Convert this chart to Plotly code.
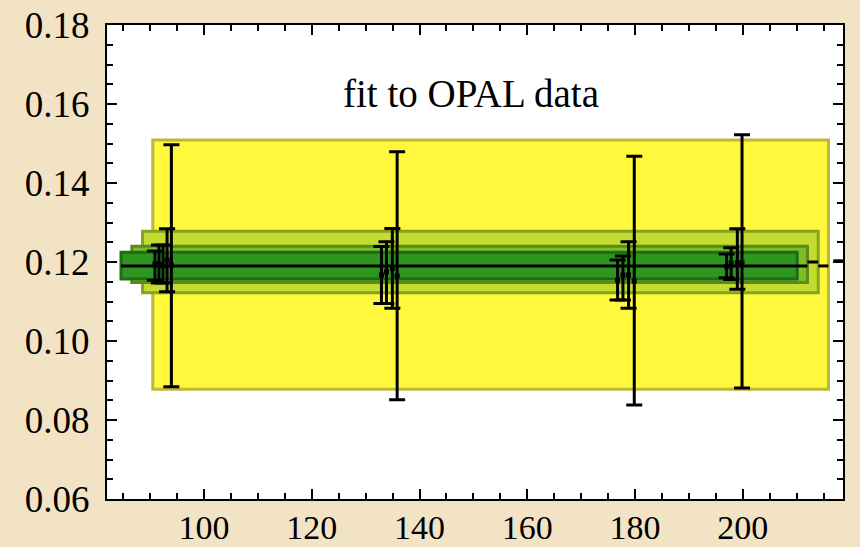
import plotly.graph_objects as go

# --- fitted alpha_s bands (nested rectangles, outermost first) ---
band_x0 = [90.5, 88.6, 86.6, 84.6]
band_x1 = [215.9, 214.0, 212.0, 210.1]
band_lo = [0.0878, 0.1122, 0.1148, 0.1157]
band_hi = [0.1509, 0.1278, 0.1240, 0.1225]
band_fill = ["#FFF83C", "#C4DC2F", "#7DBE27", "#2E9620"]
band_edge = ["#BDB73A", "#86A220", "#5A8A1C", "#1F6C17"]

# central values drawn as short horizontal segments
center_x0 = [84.6, 212.0, 214.0, 216.8]
center_x1 = [212.0, 214.0, 215.9, 218.6]
center_val = [0.1190, 0.1200, 0.1190, 0.1203]

# --- OPAL measurements: x, central value, lower and upper ends ---
pt_x = [90.9, 91.65, 92.4, 93.15, 93.95,
        132.94, 133.87, 134.96, 135.85,
        176.76, 177.76, 178.8, 179.86,
        197.0, 197.84, 198.99, 199.86]
pt_y = [0.1195, 0.1195, 0.1190, 0.1205, 0.1192,
        0.1167, 0.1175, 0.1184, 0.1165,
        0.1154, 0.1167, 0.1167, 0.1152,
        0.1188, 0.1198, 0.1198, 0.1198]
pt_lo = [0.1154, 0.1147, 0.1147, 0.1125, 0.0884,
         0.1095, 0.1095, 0.1083, 0.0851,
         0.1104, 0.1104, 0.1083, 0.0838,
         0.1160, 0.1156, 0.1131, 0.0881]
pt_hi = [0.1228, 0.1243, 0.1243, 0.1284, 0.1497,
         0.1239, 0.1251, 0.1285, 0.1479,
         0.1205, 0.1215, 0.1251, 0.1468,
         0.1220, 0.1236, 0.1284, 0.1522]

x_ticks = [100, 120, 140, 160, 180, 200]
y_ticks = [0.06, 0.08, 0.10, 0.12, 0.14, 0.16, 0.18]

SERIF = "Liberation Serif"

fig = go.Figure()

shapes = []
for x0, x1, lo, hi, fc, ec in zip(band_x0, band_x1, band_lo, band_hi, band_fill, band_edge):
    shapes.append(dict(type="rect", xref="x", yref="y", x0=x0, x1=x1, y0=lo, y1=hi,
                       fillcolor=fc, line=dict(color=ec, width=3), layer="below"))

for x0, x1, v in zip(center_x0, center_x1, center_val):
    fig.add_trace(go.Scatter(x=[x0, x1], y=[v, v], mode="lines",
                             line=dict(color="black", width=3),
                             hoverinfo="skip", showlegend=False))

err_plus = [h - y for h, y in zip(pt_hi, pt_y)]
err_minus = [y - l for y, l in zip(pt_y, pt_lo)]
fig.add_trace(go.Scatter(
    x=pt_x, y=pt_y, mode="markers",
    marker=dict(symbol="square", size=5, color="black"),
    error_y=dict(type="data", symmetric=False, array=err_plus, arrayminus=err_minus,
                 color="black", thickness=3, width=8),
    showlegend=False,
))

axis_common = dict(
    showgrid=False, zeroline=False, showline=True, linecolor="black", linewidth=2,
    mirror="allticks", ticks="inside", ticklen=10, tickwidth=1.5, tickcolor="black",
    automargin=False,
)

fig.update_layout(
    width=860, height=547,
    margin=dict(l=107, r=17, t=25, b=48),
    paper_bgcolor="#F3E3C5",
    plot_bgcolor="white",
    shapes=shapes,
    xaxis=dict(range=[82, 218.6], tickvals=x_ticks,
               tickfont=dict(family=SERIF, size=34, color="black"),
               ticklabelstandoff=-3,
               minor=dict(dtick=5, tick0=0, ticks="inside", ticklen=6, tickcolor="black"),
               **axis_common),
    yaxis=dict(range=[0.06, 0.18], tickvals=y_ticks, tickformat=".2f",
               tickfont=dict(family=SERIF, size=37, color="black"),
               minor=dict(dtick=0.005, tick0=0.06, ticks="inside", ticklen=6, tickcolor="black"),
               ticklabelstandoff=8,
               **axis_common),
    annotations=[dict(text="fit to OPAL data", xref="paper", yref="paper",
                      x=0.495, y=0.905, showarrow=False,
                      font=dict(family=SERIF, size=39, color="black"))],
)

fig.write_html("out.html")
